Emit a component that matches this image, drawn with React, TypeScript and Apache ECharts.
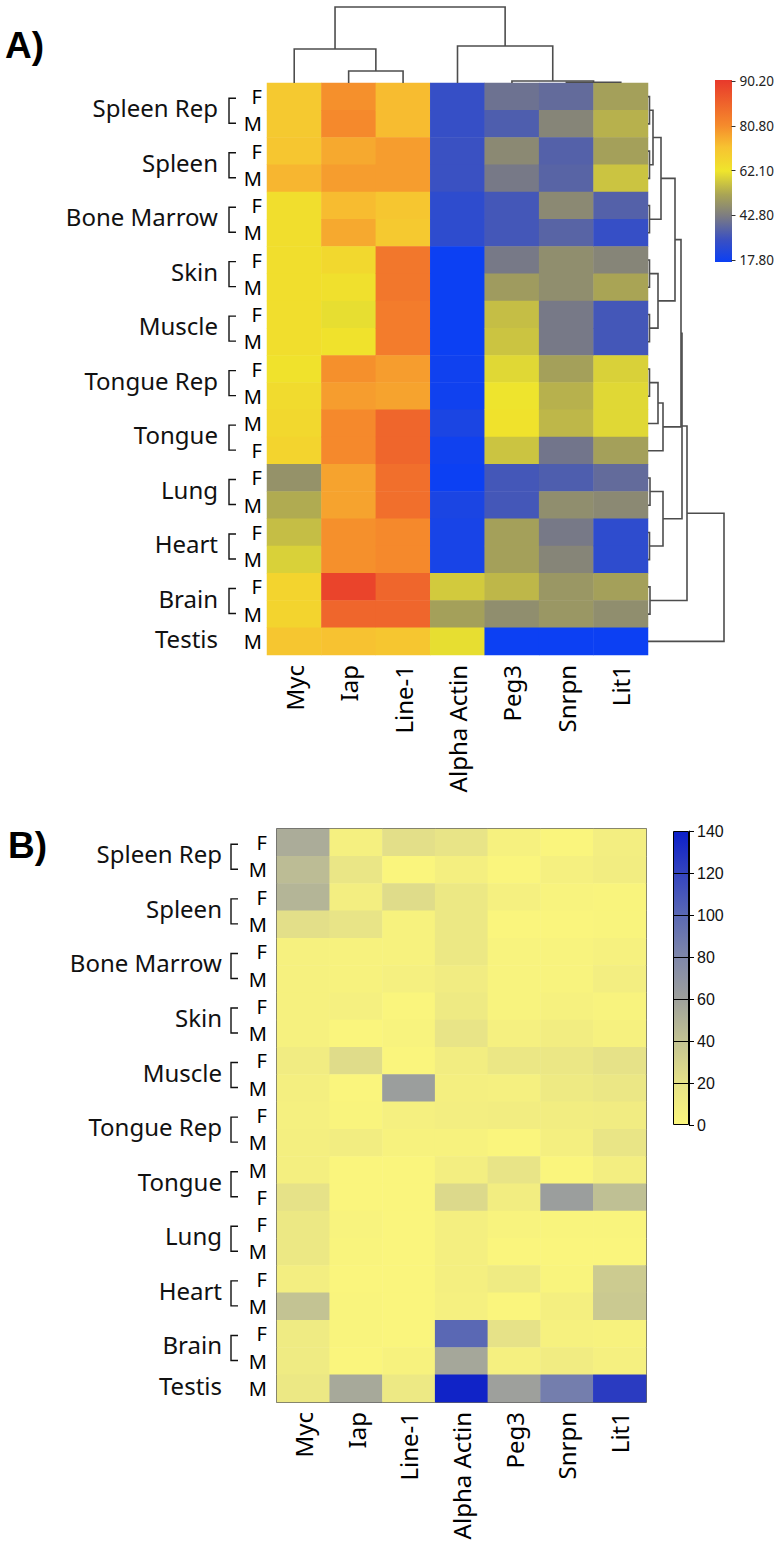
import React, { useEffect, useRef } from "react";
import * as echarts from "echarts";

// ---------- categories ----------
const genes = ["Myc", "Iap", "Line-1", "Alpha Actin", "Peg3", "Snrpn", "Lit1"];
const sexes = ["F", "M", "F", "M", "F", "M", "F", "M", "F", "M", "F", "M", "M", "F", "F", "M", "F", "M", "F", "M", "M"];
const tissues = ["Spleen Rep", "Spleen", "Bone Marrow", "Skin", "Muscle", "Tongue Rep", "Tongue", "Lung", "Heart", "Brain", "Testis"];
const tissueRowCounts = [2, 2, 2, 2, 2, 2, 2, 2, 2, 2, 1];

// ---------- panel A values (rows top to bottom) ----------
const aMyc = [70, 70, 71, 74, 64, 64, 64, 64, 64, 64, 63, 65, 66, 67, 48, 53, 56, 59, 67, 67, 71];
const aIap = [80, 81, 76, 78, 73, 76, 66, 63.5, 61, 63, 80, 78, 81, 81, 77, 77, 80, 80, 89, 85, 72];
const aLine1 = [73, 73, 78, 78, 71, 70, 83, 83, 82.5, 82.5, 78, 77, 85, 85, 84, 84, 81, 81, 85, 85, 71];
const aAlphaActin = [29, 29, 30, 30, 27, 27, 18, 18, 18, 18, 19, 19, 22, 19, 18, 22, 21, 21, 58, 51, 61];
const aPeg3 = [40, 34, 46, 42, 32, 32, 42, 50, 56, 57, 60, 62, 63, 57, 32, 32, 51, 51, 55, 47, 18];
const aSnrpn = [38, 45, 35, 36, 46, 36, 47, 47, 42, 42, 51, 54, 55, 41, 34, 47, 42, 45, 49, 49, 18];
const aLit1 = [51, 54, 51, 57, 35, 29, 45, 52, 32, 32, 59, 60, 60, 51, 38, 46, 27, 27, 51, 47, 18];
const aColumns = [aMyc, aIap, aLine1, aAlphaActin, aPeg3, aSnrpn, aLit1];

const aTicks = [17.8, 42.8, 62.1, 80.8, 90.2];
const aTickLabels = ["17.80", "42.80", "62.10", "80.80", "90.20"];
const aColorStops: [number, string][] = [
  [17.8, "#0b3ff4"], [30, "#3a50c2"], [42.8, "#7b7b83"], [52, "#a9a455"],
  [62.1, "#efe52c"], [72, "#f7c231"], [80.8, "#f58b2c"], [90.2, "#e8392b"],
];

// ---------- panel B values ----------
const bMyc = [53, 44, 48, 22, 5, 5, 5, 5, 10, 7, 6, 7, 7, 20, 14, 14, 8, 40, 11, 11, 14];
const bIap = [6, 16, 8, 18, 4, 4, 6, 1, 24, 1, 2, 9, 1, 1, 3, 2, 1, 2, 2, 1, 55];
const bLine1 = [22, 1, 24, 4, 4, 6, 1, 3, 1, 62, 6, 4, 1, 1, 1, 1, 1, 1, 1, 4, 13];
const bAlphaActin = [18, 7, 14, 14, 14, 10, 12, 18, 9, 7, 8, 4, 8, 26, 7, 7, 7, 6, 100, 56, 138];
const bPeg3 = [5, 1, 6, 1, 3, 3, 3, 6, 15, 6, 9, 1, 18, 9, 3, 1, 11, 1, 20, 6, 60];
const bSnrpn = [1, 6, 3, 1, 3, 3, 5, 9, 15, 12, 9, 7, 1, 62, 2, 1, 2, 7, 5, 10, 86];
const bLit1 = [8, 9, 2, 2, 5, 8, 3, 5, 20, 15, 10, 17, 8, 42, 2, 1, 35, 36, 4, 6, 125];
const bColumns = [bMyc, bIap, bLine1, bAlphaActin, bPeg3, bSnrpn, bLit1];

const bTicks = [0, 20, 40, 60, 80, 100, 120, 140];
const bColors = ["#fbf67c", "#e6e288", "#c3c393", "#9ea09c", "#7f87aa", "#5a68b4", "#3444bf", "#0c1fc8"];

// ---------- dendrograms: [childA, childB, height] ----------
const colMerges = [[1, 2, 12], [0, 7, 34], [5, 6, 0.8], [4, 9, 2], [3, 10, 37], [8, 11, 76]];
const rowMerges = [
  [0, 1, 1.5], [2, 3, 1.5], [21, 22, 5], [4, 5, 1.5], [23, 24, 13],
  [6, 7, 1.5], [8, 9, 1.5], [26, 27, 10], [25, 28, 27],
  [10, 11, 1.5], [30, 12, 10], [31, 13, 15], [29, 32, 33],
  [14, 15, 2], [16, 17, 1.5], [34, 35, 15], [33, 36, 34],
  [18, 19, 2], [37, 38, 39], [39, 20, 76],
];

// ---------- helpers ----------
const FONT = "'Noto Sans', 'DejaVu Sans', sans-serif";

function hexToRgb(h: string) {
  const n = parseInt(h.slice(1), 16);
  return [(n >> 16) & 255, (n >> 8) & 255, n & 255];
}
function toHex(c: number[]) {
  return "#" + c.map((v) => Math.round(v).toString(16).padStart(2, "0")).join("");
}
function colorAt(v: number, stops: [number, string][]) {
  if (v <= stops[0][0]) return stops[0][1];
  for (let i = 1; i < stops.length; i++) {
    if (v <= stops[i][0]) {
      const t = (v - stops[i - 1][0]) / (stops[i][0] - stops[i - 1][0]);
      const a = hexToRgb(stops[i - 1][1]);
      const b = hexToRgb(stops[i][1]);
      return toHex(a.map((x, k) => x + (b[k] - x) * t));
    }
  }
  return stops[stops.length - 1][1];
}
// position (0..ticks-1) of a value on the equally spaced, non-linear A colour bar
function tickIndexOf(v: number) {
  for (let i = 1; i < aTicks.length; i++) {
    if (v <= aTicks[i]) return i - 1 + (v - aTicks[i - 1]) / (aTicks[i] - aTicks[i - 1]);
  }
  return aTicks.length - 1;
}
function colourForA(v: number) {
  const idx = tickIndexOf(v);
  const stopsByIdx: [number, string][] = aColorStops.map(([val, c]) => [tickIndexOf(val), c]);
  return colorAt(idx, stopsByIdx);
}

function buildDendro(nLeaves: number, merges: number[][], vertical: boolean) {
  const pos: number[] = [];
  const hgt: number[] = [];
  for (let i = 0; i < nLeaves; i++) {
    pos[i] = i;
    hgt[i] = 0;
  }
  return merges.map(([a, b, h], k) => {
    const id = nLeaves + k;
    pos[id] = (pos[a] + pos[b]) / 2;
    hgt[id] = h;
    const pts = [[pos[a], hgt[a]], [pos[a], h], [pos[b], h], [pos[b], hgt[b]]];
    return { coords: vertical ? pts : pts.map(([p, hh]) => [hh, p]) };
  });
}

function heatData(cols: number[][]) {
  const d: number[][] = [];
  cols.forEach((col, x) => col.forEach((v, y) => d.push([x, y, v])));
  return d;
}

// ---------- layout ----------
const GA = { left: 267, top: 83, width: 381, height: 572 };
const GB = { left: 277, top: 829, width: 369, height: 573 };
const CBA = { left: 715, top: 81, width: 17, height: 179 };
const CBB = { left: 673, top: 831, width: 16, height: 294 };

export default function App() {
  const ref = useRef<HTMLDivElement>(null);

  useEffect(() => {
    const chart = echarts.init(ref.current!, null, { renderer: "svg" });
    const rowIds = sexes.map((_, i) => "r" + i);
    const aVmMin = aTicks[0];
    const aVmMax = aTicks[aTicks.length - 1];
    const aVmColors: string[] = [];
    const N = 200;
    for (let k = 0; k < N; k++) aVmColors.push(colourForA(aVmMin + ((aVmMax - aVmMin) * k) / (N - 1)));

    const xCat = (gridIndex: number, margin: number) => ({
      type: "category", gridIndex, data: genes, position: "bottom",
      axisLine: { show: false }, axisTick: { show: false },
      axisLabel: { rotate: 90, fontSize: 24, margin, color: "#000", fontFamily: FONT },
    });
    const yCat = (gridIndex: number, margin: number) => ({
      type: "category", gridIndex, data: rowIds, inverse: true,
      axisLine: { show: false }, axisTick: { show: false },
      axisLabel: { fontSize: 20, margin, color: "#000", fontFamily: FONT, formatter: (_v: string, i: number) => sexes[i] },
    });

    const option: any = {
      animation: false,
      backgroundColor: "#fff",
      textStyle: { fontFamily: FONT },
      grid: [
        { ...GA },
        { ...GB, show: true, borderColor: "#333", borderWidth: 1.5, backgroundColor: "transparent" },
        { left: GA.left, top: 0, width: GA.width, height: GA.top },
        { left: GA.left + GA.width, top: GA.top, width: 83, height: GA.height },
        { ...CBA },
        { ...CBB },
      ],
      xAxis: [
        xCat(0, 10),
        xCat(1, 10),
        { type: "value", gridIndex: 2, min: -0.5, max: 6.5, show: false },
        { type: "value", gridIndex: 3, min: 0, max: 83, show: false },
        { type: "category", gridIndex: 4, data: ["c"], show: false },
        { type: "category", gridIndex: 5, data: ["c"], show: false },
      ],
      yAxis: [
        yCat(0, 5),
        yCat(1, 10),
        { type: "value", gridIndex: 2, min: 0, max: 83, show: false },
        { type: "value", gridIndex: 3, min: -0.5, max: 20.5, inverse: true, show: false },
        {
          type: "category", gridIndex: 4, data: aTickLabels, boundaryGap: false, position: "right",
          axisLine: { show: false },
          axisTick: { show: true, length: 4, lineStyle: { color: "#333", width: 1 } },
          axisLabel: { fontSize: 13.5, margin: 8, color: "#222", fontFamily: FONT },
        },
        {
          type: "value", gridIndex: 5, min: 0, max: 140, interval: 20, position: "right",
          axisLine: { show: true, lineStyle: { color: "#000", width: 1 } },
          axisTick: { show: true, length: 5, lineStyle: { color: "#000", width: 1 } },
          axisLabel: { fontSize: 16, margin: 8, color: "#111", fontFamily: "'Liberation Sans', Arial, sans-serif" },
          splitLine: { show: false },
        },
      ],
      visualMap: [
        { type: "continuous", show: false, seriesIndex: 0, dimension: 2, min: aVmMin, max: aVmMax, inRange: { color: aVmColors } },
        { type: "continuous", show: false, seriesIndex: 1, dimension: 2, min: bTicks[0], max: bTicks[bTicks.length - 1], inRange: { color: bColors } },
      ],
      series: [
        { type: "heatmap", xAxisIndex: 0, yAxisIndex: 0, data: heatData(aColumns), silent: true, emphasis: { disabled: true } },
        { type: "heatmap", xAxisIndex: 1, yAxisIndex: 1, data: heatData(bColumns), silent: true, emphasis: { disabled: true } },
        {
          type: "lines", coordinateSystem: "cartesian2d", xAxisIndex: 2, yAxisIndex: 2, polyline: true, silent: true,
          lineStyle: { color: "#4d4d4d", width: 1.6, opacity: 1 }, data: buildDendro(7, colMerges, true),
        },
        {
          type: "lines", coordinateSystem: "cartesian2d", xAxisIndex: 3, yAxisIndex: 3, polyline: true, silent: true,
          lineStyle: { color: "#4d4d4d", width: 1.6, opacity: 1 }, data: buildDendro(21, rowMerges, false),
        },
        {
          type: "bar", xAxisIndex: 5, yAxisIndex: 5, data: [bTicks[bTicks.length - 1]], barWidth: "100%", silent: true,
          itemStyle: {
            color: {
              type: "linear", x: 0, y: 0, x2: 0, y2: 1,
              colorStops: bTicks.map((t, i) => ({ offset: 1 - t / 140, color: bColors[i] })).reverse(),
            },
            borderColor: "#000", borderWidth: 1,
          },
          markLine: {
            silent: true, symbol: ["none", "none"], label: { show: false },
            lineStyle: { color: "#000", width: 1, type: "solid" },
            data: bTicks.slice(1, -1).map((t) => ({ yAxis: t })),
          },
        },
      ],
    };
    chart.setOption(option);

    // ---- labels, brackets, colour bar A, computed from the axes ----
    const graphic: any[] = [];
    graphic.push({
      type: "text", x: 5, y: 45,
      style: { text: "A)", fill: "#000", font: "bold 37px 'Liberation Sans', Arial, sans-serif", textVerticalAlign: "middle", verticalAlign: "middle" },
    });
    graphic.push({
      type: "text", x: 8, y: 845,
      style: { text: "B)", fill: "#000", font: "bold 37px 'Liberation Sans', Arial, sans-serif", textVerticalAlign: "middle", verticalAlign: "middle" },
    });

    const panels = [
      { grid: 0, textRight: 218, bracketX: 229 },
      { grid: 1, textRight: 222, bracketX: 231 },
    ];
    panels.forEach((p) => {
      let r = 0;
      tissues.forEach((name, ti) => {
        const n = tissueRowCounts[ti];
        const y0 = chart.convertToPixel({ gridIndex: p.grid }, [0, r])[1];
        const y1 = chart.convertToPixel({ gridIndex: p.grid }, [0, r + n - 1])[1];
        const cy = (y0 + y1) / 2;
        graphic.push({
          type: "text", x: p.textRight, y: cy - 2.5,
          style: {
            text: name, fill: "#111", font: "24px " + FONT,
            textAlign: "right", align: "right", textVerticalAlign: "middle", verticalAlign: "middle",
          },
        });
        if (n === 2) {
          graphic.push({
            type: "polyline",
            shape: { points: [[p.bracketX + 7, cy - 12], [p.bracketX, cy - 12], [p.bracketX, cy + 13], [p.bracketX + 7, cy + 13]] },
            style: { stroke: "#111", lineWidth: 1.4, fill: null },
          });
        }
        r += n;
      });
    });

    // colour bar A (equally spaced ticks, non-linear values)
    const stopsA = aColorStops
      .map(([v, c]) => ({ offset: 1 - tickIndexOf(v) / (aTicks.length - 1), color: c }))
      .sort((a, b) => a.offset - b.offset);
    graphic.push({
      type: "rect",
      shape: { x: CBA.left, y: CBA.top - 1, width: CBA.width, height: CBA.height + 3 },
      style: { fill: { type: "linear", x: 0, y: 0, x2: 0, y2: 1, colorStops: stopsA } },
    });

    chart.setOption({ graphic });

    return () => chart.dispose();
  }, []);

  return <div ref={ref} style={{ position: "absolute", left: 0, top: 0, width: 777, height: 1545 }} />;
}
